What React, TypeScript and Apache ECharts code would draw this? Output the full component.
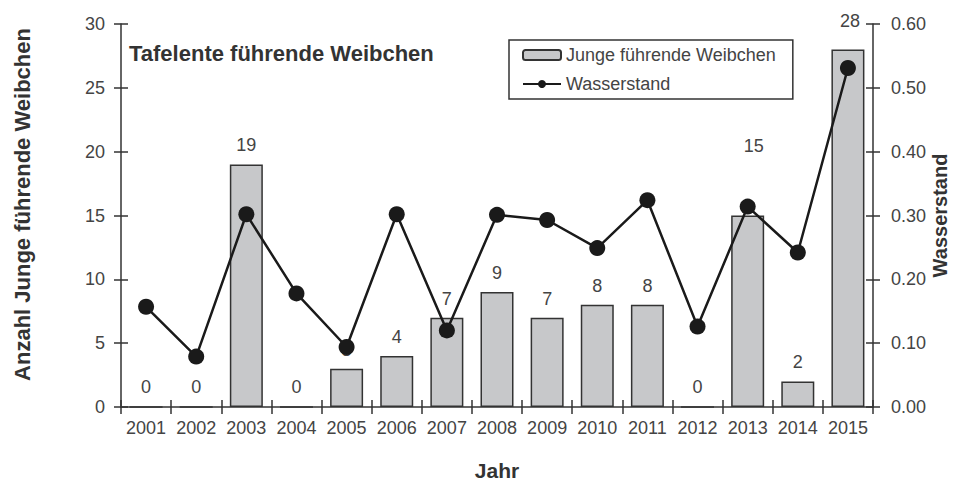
import React, { useEffect, useRef } from "react";
import * as echarts from "echarts";

const years = ["2001","2002","2003","2004","2005","2006","2007","2008","2009","2010","2011","2012","2013","2014","2015"];
const femalesWithYoung = [0, 0, 19, 0, 3, 4, 7, 9, 7, 8, 8, 0, 15, 2, 28];
const waterLevel = [0.157, 0.079, 0.302, 0.178, 0.094, 0.302, 0.12, 0.301, 0.293, 0.249, 0.324, 0.126, 0.314, 0.242, 0.531];
const leftTicks = { min: 0, max: 30, interval: 5 };
const rightTicks = { min: 0, max: 0.6, interval: 0.1 };

const FONT = "'Liberation Sans', Arial, sans-serif";
const LABEL_COLOR = "#444";
const AXIS_COLOR = "#333";

export default function App() {
  const ref = useRef<HTMLDivElement>(null);
  useEffect(() => {
    if (!ref.current) return;
    const chart = echarts.init(ref.current, null, { renderer: "svg" });
    const axisLine = { show: true, lineStyle: { color: AXIS_COLOR, width: 1.5 } };
    const tickStyle = { color: AXIS_COLOR, width: 1.5 };
    const barData = femalesWithYoung.map((v, i) => {
      if (i === 12) return { value: v, label: { offset: [6, -51] } };
      if (i === 14) return { value: v, label: { offset: [2, -10] } };
      return v;
    });
    chart.setOption({
      animation: false,
      backgroundColor: "#fff",
      textStyle: { fontFamily: FONT },
      title: {
        text: "Tafelente führende Weibchen",
        left: 129,
        top: 42,
        padding: 0,
        textStyle: { fontFamily: FONT, fontSize: 22, fontWeight: "bold", color: "#333" },
      },
      legend: {
        orient: "vertical",
        left: 509,
        top: 40,
        padding: [6, 17, 6, 13],
        itemGap: 11,
        itemWidth: 38,
        itemHeight: 10,
        borderColor: AXIS_COLOR,
        borderWidth: 1.5,
        textStyle: { fontFamily: FONT, fontSize: 18, color: LABEL_COLOR },
        data: ["Junge führende Weibchen", "Wasserstand"],
      },
      grid: { left: 121, right: 80, top: 24, bottom: 74, containLabel: false, outerBoundsMode: "none" },
      xAxis: [
        {
          type: "category",
          data: years,
          name: "Jahr",
          nameLocation: "middle",
          nameGap: 53,
          nameTextStyle: { fontFamily: FONT, fontSize: 21, fontWeight: "bold", color: "#333" },
          axisLine,
          axisTick: { show: true, length: 7, lineStyle: tickStyle },
          axisLabel: { fontFamily: FONT, fontSize: 18, color: LABEL_COLOR, margin: 12, interval: 0 },
        },
        {
          type: "category",
          data: years,
          position: "bottom",
          axisLine: { show: false },
          axisTick: { show: true, inside: true, length: 7, lineStyle: tickStyle },
          axisLabel: { show: false },
        },
      ],
      yAxis: [
        {
          type: "value",
          position: "left",
          ...leftTicks,
          name: "Anzahl Junge führende Weibchen",
          nameLocation: "middle",
          nameRotate: 90,
          nameGap: 88,
          nameTextStyle: { fontFamily: FONT, fontSize: 22, fontWeight: "bold", color: "#333", padding: [0, 0, 0, 22] },
          axisLine,
          axisTick: { show: true, length: 7, lineStyle: tickStyle },
          axisLabel: { fontFamily: FONT, fontSize: 18, color: LABEL_COLOR, margin: 16 },
          splitLine: { show: false },
        },
        {
          type: "value",
          position: "right",
          ...rightTicks,
          name: "Wasserstand",
          nameLocation: "middle",
          nameRotate: 90,
          nameGap: 57,
          nameMoveOverlap: false,
          nameTextStyle: { fontFamily: FONT, fontSize: 20, fontWeight: "bold", color: "#333" },
          axisLine,
          axisTick: { show: true, length: 7, lineStyle: tickStyle },
          axisLabel: { fontFamily: FONT, fontSize: 18, color: LABEL_COLOR, margin: 18, formatter: (v: number) => v.toFixed(2) },
          splitLine: { show: false },
        },
        {
          type: "value",
          position: "left",
          ...leftTicks,
          axisLine: { show: false },
          axisTick: { show: true, inside: true, length: 7, lineStyle: tickStyle },
          axisLabel: { show: false },
          splitLine: { show: false },
        },
        {
          type: "value",
          position: "right",
          ...rightTicks,
          axisLine: { show: false },
          axisTick: { show: true, inside: true, length: 7, lineStyle: tickStyle },
          axisLabel: { show: false },
          splitLine: { show: false },
        },
      ],
      series: [
        {
          name: "Junge führende Weibchen",
          type: "bar",
          xAxisIndex: 0,
          yAxisIndex: 0,
          barWidth: 33,
          data: barData,
          itemStyle: { color: "#c7c8ca", borderColor: "#333", borderWidth: 1.5 },
          label: {
            show: true,
            position: "top",
            distance: 10,
            fontFamily: FONT,
            fontSize: 18,
            color: LABEL_COLOR,
          },
          z: 2,
        },
        {
          name: "Wasserstand",
          type: "line",
          xAxisIndex: 0,
          yAxisIndex: 1,
          data: waterLevel,
          symbol: "circle",
          symbolSize: 16,
          lineStyle: { color: "#1a1a1a", width: 2.5 },
          itemStyle: { color: "#1a1a1a" },
          z: 3,
        },
      ],
    });
    return () => chart.dispose();
  }, []);
  return <div ref={ref} style={{ width: 953, height: 481, position: "absolute", left: 0, top: 0 }} />;
}
